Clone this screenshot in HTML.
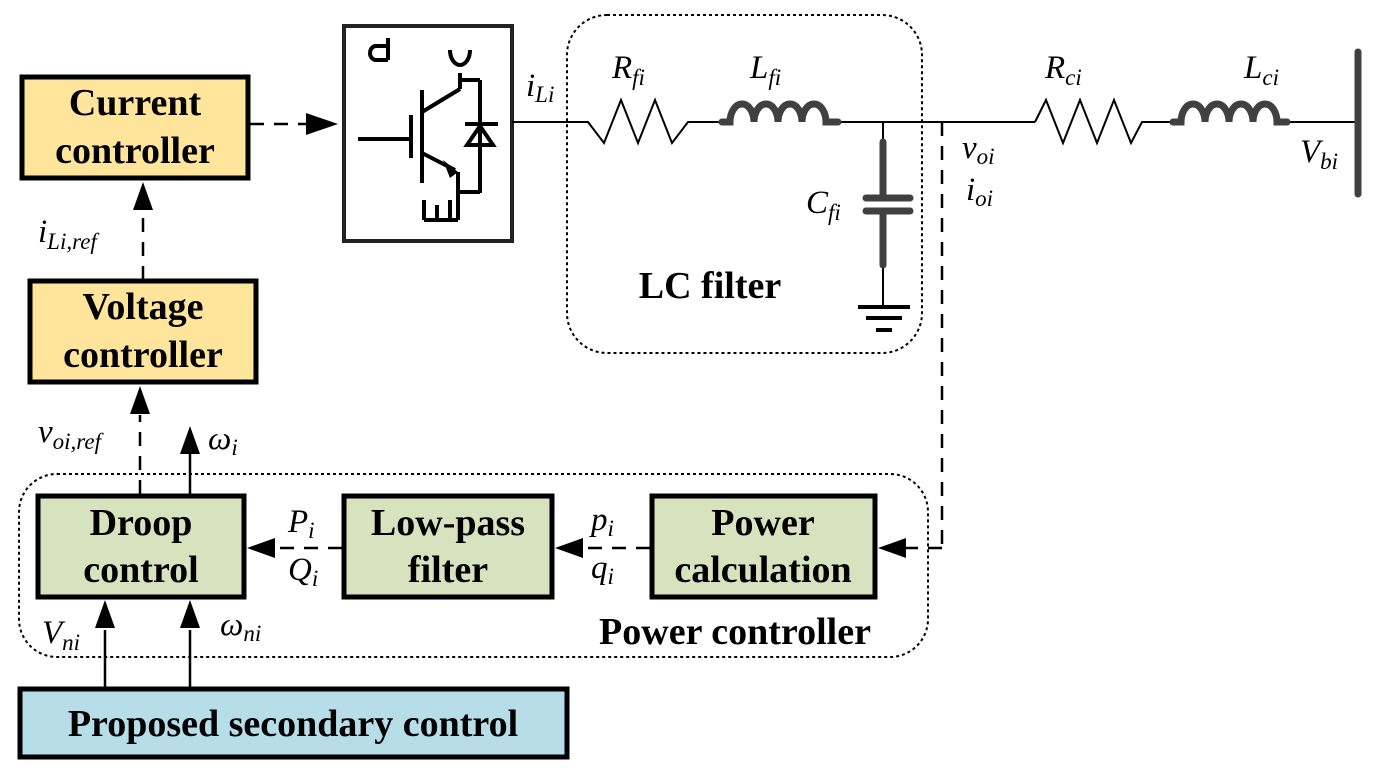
<!DOCTYPE html>
<html><head><meta charset="utf-8"><style>
html,body{margin:0;padding:0;background:#fff;}
svg{display:block;}
.b{font-family:"Liberation Serif",serif;font-weight:bold;font-size:38px;fill:#000;}
.i{font-family:"Liberation Serif",serif;font-style:italic;font-size:33px;fill:#000;}
.s{font-size:23px;}
</style></head><body>
<svg width="1376" height="775" viewBox="0 0 1376 775" xmlns="http://www.w3.org/2000/svg">
<!-- dotted boxes -->
<rect x="567" y="15" width="355" height="338" rx="40" fill="none" stroke="#000" stroke-width="2" stroke-dasharray="3,3"/>
<rect x="19" y="474" width="909" height="183" rx="38" fill="none" stroke="#000" stroke-width="2" stroke-dasharray="3,3"/>

<rect x="22" y="77" width="226" height="101" fill="#fee59b" stroke="#000" stroke-width="5"/>
<text class="b" x="135" y="115" text-anchor="middle">Current</text>
<text class="b" x="135" y="163" text-anchor="middle">controller</text>
<rect x="30" y="281" width="226" height="101" fill="#fee59b" stroke="#000" stroke-width="5"/>
<text class="b" x="143" y="319" text-anchor="middle">Voltage</text>
<text class="b" x="143" y="367" text-anchor="middle">controller</text>

<rect x="38" y="496" width="206" height="101" fill="#d7e3bf" stroke="#000" stroke-width="5"/>
<text class="b" x="141" y="535" text-anchor="middle">Droop</text>
<text class="b" x="141" y="582" text-anchor="middle">control</text>
<rect x="344" y="496" width="208" height="101" fill="#d7e3bf" stroke="#000" stroke-width="5"/>
<text class="b" x="448" y="535" text-anchor="middle">Low-pass</text>
<text class="b" x="448" y="582" text-anchor="middle">filter</text>
<rect x="652" y="496" width="223" height="101" fill="#d7e3bf" stroke="#000" stroke-width="5"/>
<text class="b" x="763" y="535" text-anchor="middle">Power</text>
<text class="b" x="763" y="582" text-anchor="middle">calculation</text>
<text class="b" x="735" y="644" text-anchor="middle">Power controller</text>

<rect x="20" y="689" width="547" height="68" fill="#b7dde8" stroke="#000" stroke-width="5"/>
<text class="b" x="293" y="736" text-anchor="middle">Proposed secondary control</text>

<g stroke="#000" stroke-width="2.5" fill="none" stroke-dasharray="14,10">
<line x1="250" y1="124" x2="310" y2="124"/>
<line x1="143" y1="280" x2="143" y2="210"/>
<line x1="140" y1="494" x2="140" y2="415"/>
<line x1="942" y1="122" x2="942" y2="548"/>
<line x1="942" y1="548" x2="905" y2="548"/>
<line x1="650" y1="548" x2="585" y2="548"/>
<line x1="342" y1="548" x2="280" y2="548"/>
</g>
<line x1="190" y1="494" x2="190" y2="450" stroke="#000" stroke-width="2.5"/>
<line x1="105" y1="687" x2="105" y2="630" stroke="#000" stroke-width="2.5"/>
<line x1="190" y1="687" x2="190" y2="630" stroke="#000" stroke-width="2.5"/>
<g fill="#000">
<polygon points="338,124 306,113 306,135"/>
<polygon points="143,182 133,210 153,210"/>
<polygon points="140,386 130,414 150,414"/>
<polygon points="190,426 180,454 200,454"/>
<polygon points="878,548 906,538 906,558"/>
<polygon points="555,548 583,538 583,558"/>
<polygon points="247,548 275,538 275,558"/>
<polygon points="105,600 95,628 115,628"/>
<polygon points="190,600 180,628 200,628"/>
</g>

<rect x="344" y="26" width="168" height="215" fill="#fff" stroke="#222" stroke-width="4"/>
<g stroke="#000" stroke-width="4" fill="none">
<line x1="358" y1="139" x2="410" y2="139"/>
<line x1="411" y1="115" x2="411" y2="158"/>
<line x1="422" y1="90" x2="422" y2="183"/>
<line x1="422" y1="112" x2="460" y2="89"/>
<line x1="460" y1="89" x2="460" y2="73"/>
<line x1="460" y1="80" x2="480" y2="80"/>
<line x1="480" y1="80" x2="480" y2="193"/>
<line x1="422" y1="153" x2="455" y2="170"/>
<line x1="458" y1="172" x2="458" y2="192"/>
<line x1="458" y1="192" x2="480" y2="192"/>
<line x1="458" y1="192" x2="458" y2="220"/>
<line x1="424" y1="220" x2="458" y2="220"/>
<line x1="424" y1="200" x2="424" y2="220"/>
<line x1="437" y1="205" x2="437" y2="220"/>
<line x1="450" y1="200" x2="450" y2="220"/>
<line x1="465" y1="124" x2="498" y2="124"/>
<path d="M450,50 a8,12 0 0 0 20,0"/>
<path d="M388,60 h-12 a6,7 0 0 1 0,-14 h12 M388,60 v-22"/>
</g>
<polygon points="480,126 467,145 493,145" fill="none" stroke="#000" stroke-width="4"/>
<polygon points="458,172 443,160 450,178" fill="#000"/>

<g stroke="#000" stroke-width="2" fill="none">
<line x1="512" y1="122" x2="578" y2="122"/>
<polyline points="578,122 588,122 604,143 621,100 638,143 655,100 672,143 688,122 720,122"/>
<line x1="840" y1="122" x2="1035" y2="122"/>
<polyline points="1035,122 1046,100 1063,143 1080,100 1097,143 1114,100 1131,143 1142,122 1172,122"/>
<line x1="1290" y1="122" x2="1357" y2="122"/>
<line x1="883" y1="122" x2="883" y2="142"/>
<line x1="883" y1="266" x2="883" y2="305"/>
</g>
<g stroke="#404040" stroke-width="7" fill="none" stroke-linecap="round">
<path d="M722,122 h8 a12,18 0 0 1 24,0 a12,18 0 0 1 24,0 a12,18 0 0 1 24,0 a12,18 0 0 1 24,0 h12"/>
<path d="M1173,122 h8 a12,18 0 0 1 24,0 a12,18 0 0 1 24,0 a12,18 0 0 1 24,0 a12,18 0 0 1 24,0 h10"/>
<line x1="883" y1="142" x2="883" y2="196"/>
<line x1="883" y1="213" x2="883" y2="265"/>
<line x1="866" y1="198" x2="910" y2="198"/>
<line x1="866" y1="211" x2="910" y2="211"/>
<line x1="1358" y1="52" x2="1358" y2="194"/>
</g>
<g stroke="#000" stroke-width="4">
<line x1="858" y1="307" x2="910" y2="307"/>
<line x1="866" y1="318" x2="902" y2="318"/>
<line x1="876" y1="330" x2="892" y2="330"/>
</g>
<text class="b" x="710" y="298" text-anchor="middle">LC filter</text>

<text class="i" x="526" y="96">i<tspan class="s" dy="6">Li</tspan></text>
<text class="i" x="612" y="78">R<tspan class="s" dy="7">fi</tspan></text>
<text class="i" x="750" y="78">L<tspan class="s" dy="7">fi</tspan></text>
<text class="i" x="806" y="213">C<tspan class="s" dy="7">fi</tspan></text>
<text class="i" x="962" y="158">v<tspan class="s" dy="6">oi</tspan></text>
<text class="i" x="966" y="200">i<tspan class="s" dy="6">oi</tspan></text>
<text class="i" x="1045" y="78">R<tspan class="s" dy="7">ci</tspan></text>
<text class="i" x="1244" y="78">L<tspan class="s" dy="7">ci</tspan></text>
<text class="i" x="1300" y="162">V<tspan class="s" dy="7">bi</tspan></text>
<text class="i" x="38" y="242">i<tspan class="s" dy="7">Li,ref</tspan></text>
<text class="i" x="38" y="442">v<tspan class="s" dy="7">oi,ref</tspan></text>
<text class="i" x="208" y="449">ω<tspan class="s" dy="6">i</tspan></text>
<text class="i" x="288" y="532">P<tspan class="s" dy="6">i</tspan></text>
<text class="i" x="288" y="580">Q<tspan class="s" dy="6">i</tspan></text>
<text class="i" x="591" y="530">p<tspan class="s" dy="6">i</tspan></text>
<text class="i" x="591" y="578">q<tspan class="s" dy="6">i</tspan></text>
<text class="i" x="42" y="643">V<tspan class="s" dy="7">ni</tspan></text>
<text class="i" x="220" y="635">ω<tspan class="s" dy="6">ni</tspan></text>
</svg>
</body></html>
